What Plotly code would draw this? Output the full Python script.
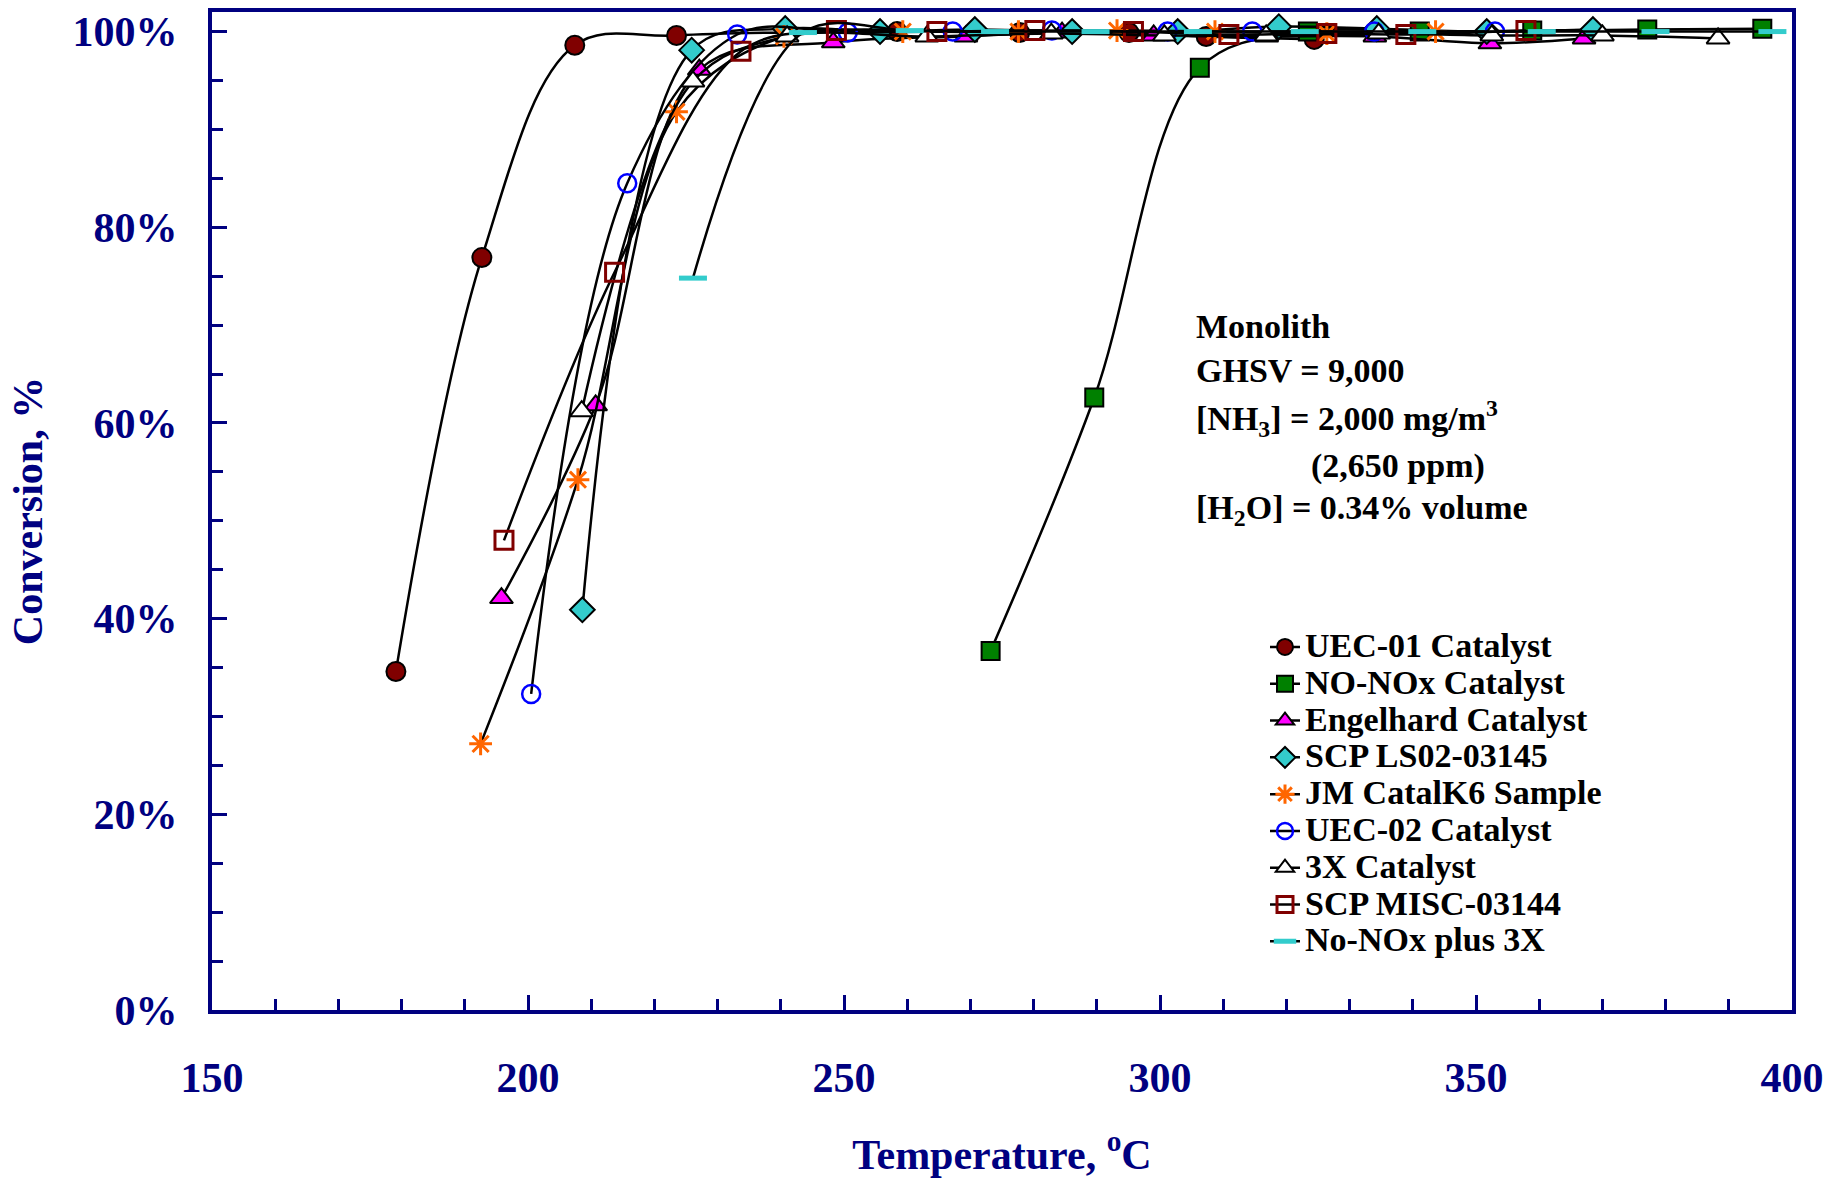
import plotly.graph_objects as go

# ---------------- data ----------------
uec01_t = [179.1, 192.7, 207.4, 223.5, 258.4, 277.8, 295.1, 307.3, 324.4]
uec01_c = [34.6, 76.9, 98.6, 99.6, 100.0, 99.9, 99.9, 99.5, 99.2]

nonox_t = [273.2, 289.6, 306.3, 323.4, 341.1, 358.9, 377.1, 395.3]
nonox_c = [36.7, 62.6, 96.3, 100.0, 100.0, 100.1, 100.2, 100.3]

engel_t = [195.8, 210.7, 227.1, 248.3, 269.3, 284.5, 299.0, 316.9, 334.0, 352.2, 367.1]
engel_c = [42.1, 61.8, 96.1, 98.9, 99.5, 99.9, 99.6, 99.5, 99.5, 98.8, 99.3]

ls02_t = [208.6, 225.9, 240.7, 255.7, 270.7, 286.1, 302.8, 318.8, 334.3, 351.7, 368.5]
ls02_c = [40.9, 98.1, 100.3, 100.0, 100.2, 100.0, 100.0, 100.5, 100.3, 100.0, 100.2]

jm_t = [192.5, 207.9, 223.5, 240.5, 259.3, 277.6, 293.2, 308.7, 326.4, 343.6]
jm_c = [27.2, 54.2, 91.8, 99.5, 100.0, 100.0, 100.1, 100.0, 99.8, 100.0]

uec02_t = [200.5, 215.7, 233.1, 250.6, 267.2, 282.9, 301.2, 314.6, 333.9, 353.0]
uec02_c = [32.3, 84.5, 99.7, 99.9, 100.0, 100.1, 100.0, 100.0, 100.0, 100.0]

x3_t = [208.5, 226.1, 241.0, 263.1, 282.8, 300.7, 316.8, 334.6, 352.5, 370.0, 388.3]
x3_c = [61.2, 94.9, 99.5, 99.5, 99.8, 99.6, 99.6, 99.8, 99.6, 99.6, 99.3]

misc_t = [196.2, 213.7, 233.7, 248.8, 264.7, 280.2, 295.8, 310.9, 326.4, 338.9, 357.9]
misc_c = [48.0, 75.4, 98.0, 100.1, 100.0, 100.1, 100.0, 99.7, 99.8, 99.7, 100.1]

nx3_t = [226.1, 243.5, 260.4, 273.9, 289.8, 306.0, 322.9, 341.5, 360.4, 378.4, 396.9]
nx3_c = [74.8, 99.9, 100.1, 100.0, 100.0, 100.0, 100.0, 100.0, 100.0, 100.0, 100.0]

series_names = ["UEC-01 Catalyst", "NO-NOx Catalyst", "Engelhard Catalyst",
                "SCP LS02-03145", "JM CatalK6 Sample", "UEC-02 Catalyst",
                "3X Catalyst", "SCP MISC-03144", "No-NOx plus 3X"]

y_tick_vals = [0, 20, 40, 60, 80, 100]
y_tick_text = ["0%", "20%", "40%", "60%", "80%", "100%"]
x_tick_vals = [150, 200, 250, 300, 350, 400]

note_lines = ["Monolith", "GHSV = 9,000", "[NH<sub>3</sub>] = 2,000 mg/m<sup>3</sup>",
              "(2,650 ppm)", "[H<sub>2</sub>O] = 0.34% volume"]

# ---------------- styling ----------------
NAVY = "#000080"
FONT = "Liberation Serif"

markers = [
    dict(symbol="circle", size=19, color="#800000", line=dict(color="black", width=2)),
    dict(symbol="square", size=18, color="#008000", line=dict(color="black", width=2)),
    dict(symbol="triangle-up", size=20, color="#FF00FF", line=dict(color="black", width=2)),
    dict(symbol="diamond", size=19, color="#33CCCC", line=dict(color="black", width=2)),
    dict(symbol="asterisk-open", size=19, color="#FF6600", line=dict(color="#FF6600", width=3)),
    dict(symbol="circle-open", size=18, color="#0000FF", line=dict(color="#0000FF", width=2.5)),
    dict(symbol="triangle-up", size=20, color="white", line=dict(color="black", width=2)),
    dict(symbol="square-open", size=18, color="#800000", line=dict(color="#800000", width=3)),
    dict(symbol="line-ew", size=20, color="#33CCCC", line=dict(color="#33CCCC", width=5)),
]

data = [(uec01_t, uec01_c), (nonox_t, nonox_c), (engel_t, engel_c), (ls02_t, ls02_c),
        (jm_t, jm_c), (uec02_t, uec02_c), (x3_t, x3_c), (misc_t, misc_c), (nx3_t, nx3_c)]

fig = go.Figure()
for name, (t, c), mk in zip(series_names, data, markers):
    fig.add_trace(go.Scatter(
        x=t, y=c, name='<span style="font-size:34px">' + name + '</span>',
        mode="lines+markers",
        line=dict(color="black", width=2.5, shape="spline", smoothing=1.0),
        marker=mk,
    ))

W, H = 1839, 1181
L, R, T, B = 212, 47, 8, 171
pw, ph = W - L - R, H - T - B

for i, txt in enumerate(note_lines):
    ys = [324, 368, 416, 464, 508][i]
    xs = 1309 if i == 3 else 1194
    fig.add_annotation(
        xref="paper", yref="paper", x=(xs - L) / pw, y=(H - B - ys) / ph,
        xanchor="left", yanchor="middle", showarrow=False, text=txt,
        font=dict(family=FONT, size=34, color="black", weight="bold"),
    )

fig.update_layout(
    width=W, height=H,
    margin=dict(l=L, r=R, t=T, b=B, pad=0),
    paper_bgcolor="white", plot_bgcolor="white",
    showlegend=True,
    legend=dict(
        x=(1265 - L) / pw, y=(H - B - 622) / ph, xanchor="left", yanchor="top",
        font=dict(family=FONT, size=26, color="black", weight="bold"),
        bgcolor="rgba(0,0,0,0)", borderwidth=0, tracegroupgap=0,
    ),
    font=dict(family=FONT, color=NAVY),
)

fig.update_xaxes(
    range=[150, 400], tickvals=x_tick_vals,
    showgrid=False, zeroline=False,
    showline=True, linecolor=NAVY, linewidth=4, mirror=True,
    ticks="inside", ticklen=15, tickwidth=3, tickcolor=NAVY,
    minor=dict(dtick=10, ticks="inside", ticklen=11, tickwidth=3, tickcolor=NAVY),
    tickfont=dict(family=FONT, size=42, color=NAVY, weight="bold"),
    ticklabelstandoff=28,
    title=dict(text="Temperature, <sup>o</sup>C", standoff=40,
               font=dict(family=FONT, size=42, color=NAVY, weight="bold")),
)
fig.update_yaxes(
    range=[0, 102], tickvals=y_tick_vals, ticktext=y_tick_text,
    showgrid=False, zeroline=False,
    showline=True, linecolor=NAVY, linewidth=4, mirror=True,
    ticks="inside", ticklen=15, tickwidth=3, tickcolor=NAVY,
    minor=dict(dtick=5, ticks="inside", ticklen=11, tickwidth=3, tickcolor=NAVY),
    tickfont=dict(family=FONT, size=42, color=NAVY, weight="bold"),
    ticklabelstandoff=22,
    title=dict(text="Conversion, %", standoff=18,
               font=dict(family=FONT, size=42, color=NAVY, weight="bold")),
)

fig.write_html("out.html")
